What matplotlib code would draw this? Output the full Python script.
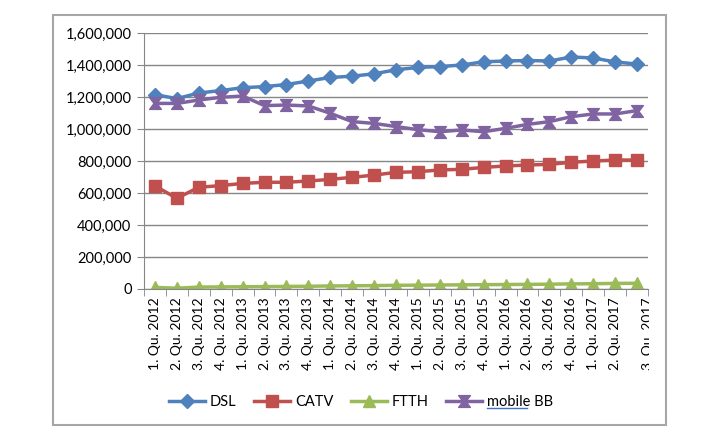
import matplotlib.pyplot as plt
import numpy as np
from matplotlib.path import Path
from matplotlib.patches import Rectangle
from matplotlib.lines import Line2D
from matplotlib.ticker import FuncFormatter
from matplotlib.transforms import Bbox, TransformedBbox, IdentityTransform, blended_transform_factory, offset_copy

plt.rcParams['font.family'] = ['Lato', 'DejaVu Sans']

quarters = ['1. Qu. 2012', '2. Qu. 2012', '3. Qu. 2012', '4. Qu. 2012',
            '1. Qu. 2013', '2. Qu. 2013', '3. Qu. 2013', '4. Qu. 2013',
            '1. Qu. 2014', '2. Qu. 2014', '3. Qu. 2014', '4. Qu. 2014',
            '1. Qu. 2015', '2. Qu. 2015', '3. Qu. 2015', '4. Qu. 2015',
            '1. Qu. 2016', '2. Qu. 2016', '3. Qu. 2016', '4. Qu. 2016',
            '1. Qu. 2017', '2. Qu. 2017', '3. Qu. 2017']

dsl = [1215000, 1190000, 1225000, 1240000, 1258000, 1265000, 1278000, 1300000,
       1322000, 1330000, 1345000, 1370000, 1385000, 1390000, 1400000, 1420000,
       1425000, 1428000, 1425000, 1450000, 1444000, 1419000, 1406000]
catv = [644000, 567000, 636000, 646000, 660000, 667000, 667000, 675000,
        685000, 698000, 712000, 729000, 733000, 744000, 748000, 760000,
        769000, 775000, 779000, 792000, 800000, 806000, 806000]
ftth = [10000, 5000, 12000, 13000, 14000, 15000, 16000, 17000,
        19000, 20000, 21000, 23000, 24000, 25000, 26000, 27000,
        28000, 29000, 30000, 32000, 33000, 35000, 36000]
mobile_bb = [1160000, 1160000, 1181000, 1198000, 1206000, 1146000, 1150000, 1144000,
             1098000, 1046000, 1035000, 1015000, 996000, 983000, 994000, 983000,
             1004000, 1029000, 1046000, 1077000, 1094000, 1094000, 1115000]

# hourglass marker like Excel's
hourglass = Path([(-1, 1), (1, 1), (0.25, 0), (1, -1), (-1, -1), (-0.25, 0), (-1, 1)],
                 [Path.MOVETO] + [Path.LINETO] * 5 + [Path.CLOSEPOLY])

fig = plt.figure(figsize=(7.27, 4.45), dpi=100)
ax = fig.add_axes([144 / 727, 1 - 289 / 445, 504 / 727, 256 / 445])

x = np.arange(len(quarters))
ax.plot(x, dsl, color='#4F81BD', lw=2.5, marker='D', ms=7.5, label='DSL')
ax.plot(x, catv, color='#C0504D', lw=2.5, marker='s', ms=8.5, label='CATV')
ax.plot(x, ftth, color='#9BBB59', lw=2.5, marker='^', ms=9, label='FTTH')
ax.plot(x, mobile_bb, color='#8064A2', lw=2.5, marker=hourglass, ms=8.5, label='mobile BB')

ax.set_xlim(-0.5, len(quarters) - 0.5)
ax.set_ylim(0, 1600000)
ax.set_yticks(np.arange(0, 1600001, 200000))
ax.yaxis.set_major_formatter(FuncFormatter(lambda v, p: f'{int(v):,}'))
ax.grid(axis='y', color='#868686', lw=1)
ax.set_axisbelow(True)

# last label is drawn separately so it can be cut at the edge
ax.set_xticks(x)
ax.set_xticklabels(quarters[:-1] + [''], rotation=90, fontsize=10)
ax.set_xticks(np.arange(-0.5, len(quarters)), minor=True)
ax.tick_params(axis='x', which='major', length=0, pad=6)
ax.tick_params(axis='x', which='minor', length=5, color='#868686')
ax.tick_params(axis='y', length=5, color='#868686', labelsize=10.5, pad=4)

for s in ['top', 'right']:
    ax.spines[s].set_visible(False)
for s in ['left', 'bottom']:
    ax.spines[s].set_color('#868686')

trans = offset_copy(blended_transform_factory(ax.transData, ax.transAxes),
                    fig=fig, x=8, y=-6, units='points')
last = fig.text(x[-1], 0, quarters[-1], transform=trans, rotation=90,
                ha='center', va='top', fontsize=10)
last.set_clip_box(TransformedBbox(Bbox([[0, 0], [649, 445]]), IdentityTransform()))
last.set_clip_on(True)

leg = fig.legend(loc='center', bbox_to_anchor=(361 / 727, 1 - 402 / 445), ncol=4,
                 frameon=False, fontsize=10.5, handlelength=2.5, handletextpad=0.3,
                 columnspacing=1.2)

fig.patches.append(Rectangle((53 / 727, 1 - 425 / 445), 613 / 727, 410 / 445,
                             transform=fig.transFigure, fill=False,
                             edgecolor='#A6A6A6', lw=1.5))

# blue underline under "mobile" in the legend
fig.canvas.draw()
bb = leg.get_texts()[-1].get_window_extent()
fig.add_artist(Line2D([bb.x0 / 727, (bb.x0 + bb.width * 0.6) / 727],
                      [(bb.y0 + 1) / 445] * 2, transform=fig.transFigure,
                      color='#4472C4', lw=1))

fig.savefig('out.png', dpi=100)
